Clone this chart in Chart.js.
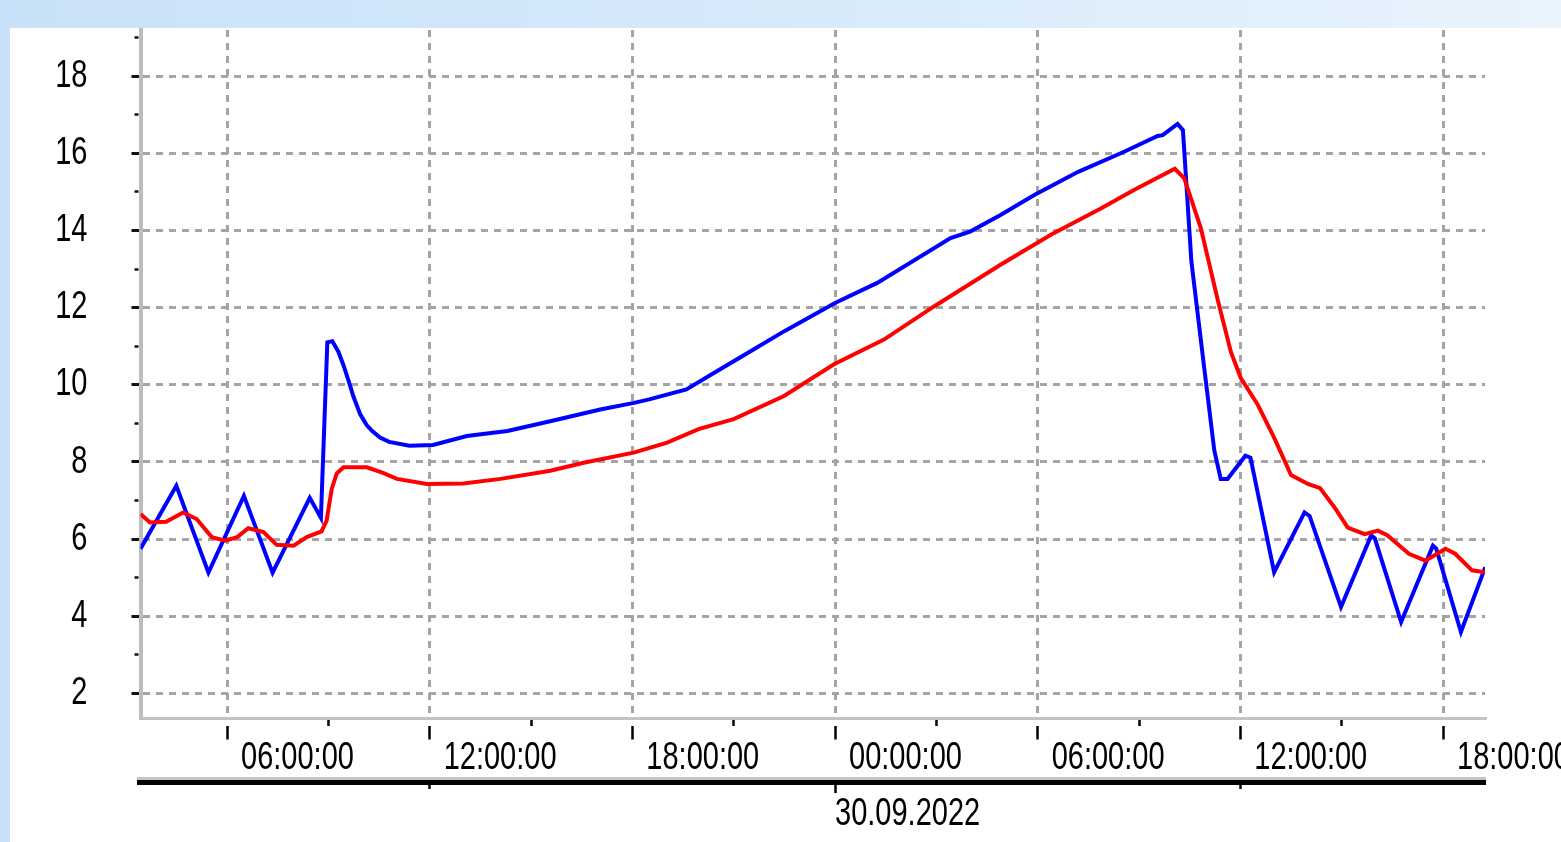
<!DOCTYPE html>
<html>
<head>
<meta charset="utf-8">
<title>Temperaturverlauf</title>
<script src="https://cdn.jsdelivr.net/npm/chart.js@4.4.1/dist/chart.umd.min.js"></script>
<style>
  html, body { margin: 0; padding: 0; width: 1561px; height: 842px; overflow: hidden; }
  body { position: relative; background: linear-gradient(to right, #c9e1f8 0%, #d5e9fa 45%, #e9f4fd 100%); }
  #panel { position: absolute; left: 10px; top: 28px; width: 1551px; height: 814px; background: #ffffff; }
  canvas { display: block; }
</style>
</head>
<body>
<div id="panel"><canvas id="chart" width="1551" height="814"></canvas></div>
<script>
// Time axis: hours counted from 29.09.2022 00:00
const timeMin = 3.439;
const timeMax = 43.243;

// Blue series (hours, value)
const blueHours = [3.44, 4.5, 5.45, 6.5, 7.35, 8.45, 8.78, 8.97, 9.12, 9.3, 9.45, 9.6, 9.74, 9.94, 10.14, 10.3,
  10.53, 10.8, 11.4, 12.1, 13.1, 14.3, 15.6, 17.05, 18.05, 18.5, 19.6, 20.5, 21.5, 22.5, 24.0, 25.25, 27.42,
  28.0, 28.9, 29.9, 31.2, 32.56, 33.55, 33.7, 34.14, 34.3, 34.55, 34.93, 35.23, 35.42, 35.62, 36.15, 36.3,
  37.0, 37.9, 38.05, 38.98, 39.87, 39.98, 40.76, 41.7, 41.8, 42.53, 43.25];
const blueValues = [5.75, 7.38, 5.13, 7.12, 5.13, 7.07, 6.55, 11.1, 11.13, 10.85, 10.5, 10.1, 9.7, 9.24, 8.95, 8.8,
  8.63, 8.52, 8.42, 8.44, 8.67, 8.8, 9.06, 9.36, 9.53, 9.62, 9.88, 10.35, 10.87, 11.39, 12.12, 12.64, 13.8,
  13.97, 14.4, 14.92, 15.52, 16.04, 16.45, 16.47, 16.76, 16.6, 13.2, 10.44, 8.29, 7.56, 7.56, 8.16, 8.11,
  5.14, 6.69, 6.6, 4.24, 6.09, 6.02, 3.85, 5.83, 5.75, 3.59, 5.27];

// Red series (hours, value)
const redHours = [3.44, 3.72, 4.2, 4.7, 5.1, 5.55, 5.95, 6.3, 6.63, 7.08, 7.47, 7.97, 8.36, 8.8, 8.95, 9.1, 9.25,
  9.45, 10.14, 10.6, 11.03, 11.92, 13.0, 14.1, 15.57, 16.56, 18.04, 19.03, 19.96, 21.0, 22.49, 23.97, 25.45,
  26.93, 28.9, 30.39, 31.87, 32.85, 34.06, 34.34, 34.83, 35.33, 35.72, 36.01, 36.51, 37.0, 37.5, 38.0, 38.36,
  38.79, 39.18, 39.68, 40.07, 40.35, 40.99, 41.48, 42.07, 42.36, 42.86, 43.25];
const redValues = [6.65, 6.43, 6.45, 6.69, 6.52, 6.05, 5.96, 6.05, 6.28, 6.18, 5.85, 5.83, 6.05, 6.2, 6.48, 7.3, 7.7,
  7.86, 7.86, 7.72, 7.56, 7.43, 7.44, 7.56, 7.77, 7.98, 8.24, 8.5, 8.85, 9.11, 9.71, 10.53, 11.17,
  12.03, 13.11, 13.89, 14.57, 15.05, 15.6, 15.35, 14.06, 12.2, 10.85, 10.18, 9.49, 8.63, 7.66, 7.43, 7.32,
  6.82, 6.3, 6.13, 6.22, 6.1, 5.62, 5.44, 5.75, 5.62, 5.19, 5.14];

// Tick positions and labels
const timeTickHours = [6, 12, 18, 24, 30, 36, 42];
const timeTickLabels = ['06:00:00', '12:00:00', '18:00:00', '00:00:00', '06:00:00', '12:00:00', '18:00:00'];
const timeMinorHours = [9, 15, 21, 27, 33, 39];
const dateTickHours = [12, 24, 36];
const dateTickLabels = ['', '30.09.2022', ''];
const yTickValues = [2, 4, 6, 8, 10, 12, 14, 16, 18];
const yTickLabels = ['2', '4', '6', '8', '10', '12', '14', '16', '18'];
const yMinorValues = [3, 5, 7, 9, 11, 13, 15, 17, 19];
const yMin = 1.349;
const yMax = 19.196;

const toPoints = (xs, ys) => xs.map((x, i) => ({ x: x, y: ys[i] }));
const sortNum = (a, b) => a - b;
const timeAllTicks = timeTickHours.concat(timeMinorHours).sort(sortNum);
const yAllTicks = yTickValues.concat(yMinorValues).sort(sortNum);

// Linear scale whose tick labels are drawn taller than wide (narrow, tall digits)
class TallLabelLinearScale extends Chart.LinearScale {
  drawLabels(chartArea) {
    const tickOpts = this.options.ticks;
    if (!tickOpts.display) { return; }
    const ctx = this.ctx;
    const k = tickOpts.stretchY || 1;
    for (const item of this.getLabelItems(chartArea)) {
      if (!item.label) { continue; }
      const o = item.options;
      ctx.save();
      ctx.translate(o.translation[0], o.translation[1]);
      ctx.scale(1, k);
      ctx.font = item.font.string;
      ctx.fillStyle = o.color;
      ctx.textAlign = o.textAlign;
      ctx.textBaseline = o.textBaseline;
      ctx.fillText(item.label, 0, item.textOffset / k);
      ctx.restore();
    }
  }
}
TallLabelLinearScale.id = 'tallLinear';
TallLabelLinearScale.defaults = Chart.LinearScale.defaults;
Chart.register(TallLabelLinearScale);

const labelFont = { family: "'Liberation Sans', Arial, sans-serif", size: 29, lineHeight: 1 };
const labelStretch = 1.33;
const gridGray = '#a4a4a4';
const none = 'rgba(0,0,0,0)';
const tickValue = (c) => (c && c.tick ? c.tick.value : null);

// Double rule under the time labels: grey upper half, black lower half
const dateRule = (c) => {
  const s = c.scale;
  if (!s || !c.chart.ctx) { return '#000000'; }
  const g = c.chart.ctx.createLinearGradient(0, s.top - 4, 0, s.top + 4);
  g.addColorStop(0, '#c4c4c4');
  g.addColorStop(0.42, '#c4c4c4');
  g.addColorStop(0.42, '#000000');
  g.addColorStop(1, '#000000');
  return g;
};

new Chart(document.getElementById('chart'), {
  type: 'line',
  data: {
    datasets: [
      { data: toPoints(redHours, redValues), borderColor: '#ff0000', borderWidth: 4, pointRadius: 0,
        tension: 0, fill: false, order: 0, xAxisID: 'x', yAxisID: 'y' },
      { data: toPoints(blueHours, blueValues), borderColor: '#0000ff', borderWidth: 4, pointRadius: 0,
        tension: 0, fill: false, order: 1, xAxisID: 'x', yAxisID: 'y' }
    ]
  },
  options: {
    responsive: false,
    animation: false,
    events: [],
    layout: { padding: { left: 0, right: 76, top: 2, bottom: 0 } },
    plugins: { legend: { display: false }, tooltip: { enabled: false }, title: { display: false } },
    scales: {
      x: {
        type: 'tallLinear', position: 'bottom', weight: 0, min: timeMin, max: timeMax,
        afterBuildTicks: (s) => { s.ticks = timeAllTicks.map((v) => ({ value: v })); },
        afterFit: (s) => { s.height = 62.5; s.paddingLeft = 0; s.paddingRight = 0; },
        border: { display: true, color: '#c3c3c3', width: 3, dash: [7, 6] },
        grid: {
          color: (c) => (timeTickHours.includes(tickValue(c)) ? gridGray : none),
          lineWidth: 3,
          tickLength: 21,
          tickColor: '#000000',
          tickWidth: 2.5,
          tickBorderDash: (c) => (timeTickHours.includes(tickValue(c)) ? [0, 6, 14, 100] : [6, 100])
        },
        ticks: {
          autoSkip: false, maxRotation: 0, minRotation: 0, align: 'start', labelOffset: 14, padding: 4,
          color: '#000000', font: labelFont, stretchY: labelStretch,
          callback: (v) => { const k = timeTickHours.indexOf(v); return k >= 0 ? timeTickLabels[k] : ''; }
        }
      },
      date: {
        type: 'tallLinear', position: 'bottom', weight: 1, min: timeMin, max: timeMax,
        afterBuildTicks: (s) => { s.ticks = dateTickHours.map((v) => ({ value: v })); },
        afterFit: (s) => { s.height = 61; s.paddingLeft = 0; s.paddingRight = 0; },
        border: { display: true, color: dateRule, width: 8 },
        grid: {
          drawOnChartArea: false,
          tickLength: 12,
          tickColor: '#000000',
          tickWidth: 2.5,
          tickBorderDash: (c) => (dateTickLabels[dateTickHours.indexOf(tickValue(c))] ? [] : [4, 100])
        },
        ticks: {
          autoSkip: false, maxRotation: 0, minRotation: 0, align: 'start', labelOffset: 0, padding: 7,
          color: '#000000', font: labelFont, stretchY: labelStretch,
          callback: (v) => { const k = dateTickHours.indexOf(v); return k >= 0 ? dateTickLabels[k] : ''; }
        }
      },
      y: {
        type: 'tallLinear', position: 'left', min: yMin, max: yMax,
        afterBuildTicks: (s) => { s.ticks = yAllTicks.map((v) => ({ value: v })); },
        afterFit: (s) => { s.width = 130.5; s.paddingTop = 0; s.paddingBottom = 0; },
        border: { display: true, color: '#bdbdbd', width: 4, dash: [7, 6] },
        grid: {
          color: (c) => (yTickValues.includes(tickValue(c)) ? gridGray : none),
          lineWidth: 3,
          tickLength: 9,
          tickColor: '#111111',
          tickWidth: (c) => (yTickValues.includes(tickValue(c)) ? 3 : 2.5),
          tickBorderDash: (c) => (yTickValues.includes(tickValue(c)) ? [] : [0, 3, 4, 100])
        },
        ticks: {
          autoSkip: false, padding: 44, color: '#000000', font: labelFont, stretchY: labelStretch,
          callback: (v) => { const k = yTickValues.indexOf(v); return k >= 0 ? yTickLabels[k] : ''; }
        }
      }
    }
  }
});
</script>
</body>
</html>
